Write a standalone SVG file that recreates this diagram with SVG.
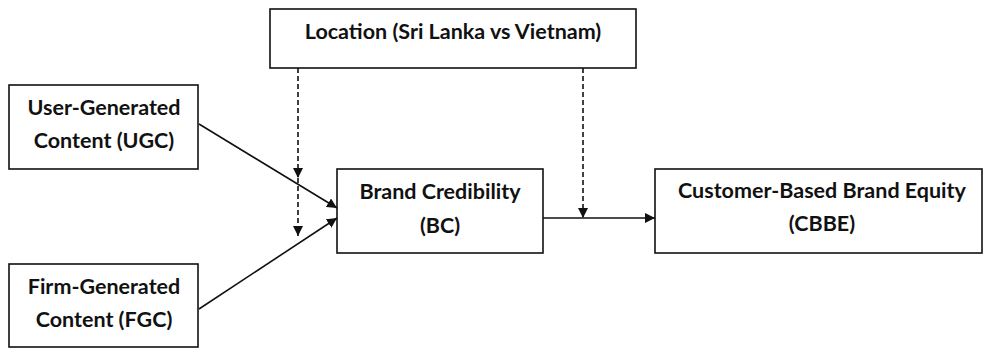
<svg xmlns="http://www.w3.org/2000/svg" width="984" height="349" viewBox="0 0 984 349">
<defs>
<style>
.box{fill:#fff;stroke:#111;stroke-width:1.6}
.t{font-family:Lato,"Liberation Sans",sans-serif;font-weight:bold;font-size:21.5px;fill:#111;text-anchor:middle}
.c{stroke:#111;stroke-width:1.6;fill:none}
.d{stroke-dasharray:5,3}
</style>
<marker id="ah" viewBox="0 0 10 10" refX="10" refY="5" markerWidth="10" markerHeight="10" markerUnits="userSpaceOnUse" orient="auto">
<path d="M0,0 L10,5 L0,10 Z" fill="#111"/>
</marker>
</defs>
<rect width="984" height="349" fill="#fff"/>
<g id="loc"><rect class="box" x="270" y="9" width="366" height="59"/><text class="t" x="453" y="39">Location (Sri Lanka vs Vietnam)</text></g>
<g id="ugc"><rect class="box" x="9" y="85" width="189" height="84"/><text class="t" x="104" y="115">User-Generated</text><text class="t" x="104" y="148">Content (UGC)</text></g>
<g id="fgc"><rect class="box" x="9" y="264" width="189" height="83"/><text class="t" x="104" y="294">Firm-Generated</text><text class="t" x="104" y="327">Content (FGC)</text></g>
<g id="bc"><rect class="box" x="337" y="169" width="206" height="84"/><text class="t" x="440" y="199">Brand Credibility</text><text class="t" x="440" y="233">(BC)</text></g>
<g id="cbbe"><rect class="box" x="655" y="169" width="327" height="84"/><text class="t" x="822" y="198">Customer-Based Brand Equity</text><text class="t" x="822" y="231">(CBBE)</text></g>
<g id="connectors">
<line class="c" x1="199" y1="124" x2="337" y2="208" marker-end="url(#ah)"/>
<line class="c" x1="199" y1="309" x2="337" y2="218" marker-end="url(#ah)"/>
<line class="c" x1="543" y1="218" x2="655" y2="218" marker-end="url(#ah)"/>
<line class="c d" x1="298" y1="68" x2="298" y2="178" marker-end="url(#ah)"/>
<line class="c d" x1="298" y1="178" x2="298" y2="236" marker-end="url(#ah)"/>
<line class="c d" x1="583" y1="68" x2="583" y2="218" marker-end="url(#ah)"/>
</g>
</svg>
